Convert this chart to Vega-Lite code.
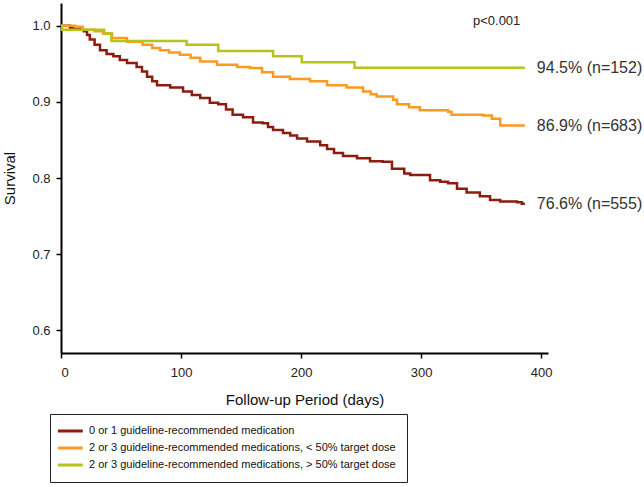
{
  "$schema": "https://vega.github.io/schema/vega-lite/v6.json",
  "width": 487,
  "height": 350,
  "autosize": {"type": "none"},
  "padding": {"left": 61, "top": 3, "right": 96, "bottom": 134},
  "background": "white",
  "config": {
    "view": {"stroke": null},
    "font": "Liberation Sans",
    "axis": {
      "grid": false,
      "domainColor": "black",
      "domainWidth": 2,
      "tickColor": "black",
      "tickWidth": 1.5,
      "tickSize": 5,
      "labelFont": "Liberation Sans",
      "labelFontSize": 13,
      "labelColor": "#222222",
      "titleFont": "Liberation Sans",
      "titleFontSize": 15,
      "titleFontWeight": "normal",
      "titleColor": "#111111"
    }
  },
  "datasets": {
    "km": [
      {"group": "0 or 1 guideline-recommended medication", "day": 0, "surv": 1.0},
      {"group": "0 or 1 guideline-recommended medication", "day": 7.5, "surv": 0.997},
      {"group": "0 or 1 guideline-recommended medication", "day": 16, "surv": 0.995},
      {"group": "0 or 1 guideline-recommended medication", "day": 19, "surv": 0.993},
      {"group": "0 or 1 guideline-recommended medication", "day": 21.7, "surv": 0.988},
      {"group": "0 or 1 guideline-recommended medication", "day": 24, "surv": 0.982},
      {"group": "0 or 1 guideline-recommended medication", "day": 28, "surv": 0.975},
      {"group": "0 or 1 guideline-recommended medication", "day": 32.5, "surv": 0.968},
      {"group": "0 or 1 guideline-recommended medication", "day": 38, "surv": 0.963},
      {"group": "0 or 1 guideline-recommended medication", "day": 43.6, "surv": 0.96},
      {"group": "0 or 1 guideline-recommended medication", "day": 49, "surv": 0.955},
      {"group": "0 or 1 guideline-recommended medication", "day": 55, "surv": 0.951},
      {"group": "0 or 1 guideline-recommended medication", "day": 63, "surv": 0.946},
      {"group": "0 or 1 guideline-recommended medication", "day": 67.5, "surv": 0.94},
      {"group": "0 or 1 guideline-recommended medication", "day": 71.7, "surv": 0.933},
      {"group": "0 or 1 guideline-recommended medication", "day": 76, "surv": 0.927},
      {"group": "0 or 1 guideline-recommended medication", "day": 80, "surv": 0.922},
      {"group": "0 or 1 guideline-recommended medication", "day": 91, "surv": 0.919},
      {"group": "0 or 1 guideline-recommended medication", "day": 101.7, "surv": 0.9136},
      {"group": "0 or 1 guideline-recommended medication", "day": 109, "surv": 0.909},
      {"group": "0 or 1 guideline-recommended medication", "day": 116, "surv": 0.905},
      {"group": "0 or 1 guideline-recommended medication", "day": 124, "surv": 0.899},
      {"group": "0 or 1 guideline-recommended medication", "day": 131, "surv": 0.897},
      {"group": "0 or 1 guideline-recommended medication", "day": 137.5, "surv": 0.89},
      {"group": "0 or 1 guideline-recommended medication", "day": 143, "surv": 0.883},
      {"group": "0 or 1 guideline-recommended medication", "day": 151.7, "surv": 0.88},
      {"group": "0 or 1 guideline-recommended medication", "day": 160, "surv": 0.873},
      {"group": "0 or 1 guideline-recommended medication", "day": 168, "surv": 0.872},
      {"group": "0 or 1 guideline-recommended medication", "day": 172.5, "surv": 0.867},
      {"group": "0 or 1 guideline-recommended medication", "day": 176.7, "surv": 0.863},
      {"group": "0 or 1 guideline-recommended medication", "day": 185, "surv": 0.859},
      {"group": "0 or 1 guideline-recommended medication", "day": 191, "surv": 0.856},
      {"group": "0 or 1 guideline-recommended medication", "day": 196.7, "surv": 0.852},
      {"group": "0 or 1 guideline-recommended medication", "day": 205, "surv": 0.848},
      {"group": "0 or 1 guideline-recommended medication", "day": 216, "surv": 0.843},
      {"group": "0 or 1 guideline-recommended medication", "day": 221.7, "surv": 0.838},
      {"group": "0 or 1 guideline-recommended medication", "day": 227.5, "surv": 0.833},
      {"group": "0 or 1 guideline-recommended medication", "day": 235, "surv": 0.829},
      {"group": "0 or 1 guideline-recommended medication", "day": 246.7, "surv": 0.826},
      {"group": "0 or 1 guideline-recommended medication", "day": 257.5, "surv": 0.822},
      {"group": "0 or 1 guideline-recommended medication", "day": 268, "surv": 0.8215},
      {"group": "0 or 1 guideline-recommended medication", "day": 275.8, "surv": 0.812},
      {"group": "0 or 1 guideline-recommended medication", "day": 286, "surv": 0.806},
      {"group": "0 or 1 guideline-recommended medication", "day": 291, "surv": 0.804},
      {"group": "0 or 1 guideline-recommended medication", "day": 307.5, "surv": 0.797},
      {"group": "0 or 1 guideline-recommended medication", "day": 316, "surv": 0.795},
      {"group": "0 or 1 guideline-recommended medication", "day": 322.5, "surv": 0.793},
      {"group": "0 or 1 guideline-recommended medication", "day": 330, "surv": 0.786},
      {"group": "0 or 1 guideline-recommended medication", "day": 338, "surv": 0.781},
      {"group": "0 or 1 guideline-recommended medication", "day": 349, "surv": 0.776},
      {"group": "0 or 1 guideline-recommended medication", "day": 357.5, "surv": 0.771},
      {"group": "0 or 1 guideline-recommended medication", "day": 366, "surv": 0.769},
      {"group": "0 or 1 guideline-recommended medication", "day": 380, "surv": 0.768},
      {"group": "0 or 1 guideline-recommended medication", "day": 384, "surv": 0.766},
      {"group": "0 or 1 guideline-recommended medication", "day": 386.5, "surv": 0.766},
      {"group": "2 or 3 guideline-recommended medications, < 50% target dose", "day": 0, "surv": 1.0},
      {"group": "2 or 3 guideline-recommended medications, < 50% target dose", "day": 11.7, "surv": 0.9987},
      {"group": "2 or 3 guideline-recommended medications, < 50% target dose", "day": 18, "surv": 0.995},
      {"group": "2 or 3 guideline-recommended medications, < 50% target dose", "day": 28, "surv": 0.993},
      {"group": "2 or 3 guideline-recommended medications, < 50% target dose", "day": 35, "surv": 0.99},
      {"group": "2 or 3 guideline-recommended medications, < 50% target dose", "day": 42.5, "surv": 0.984},
      {"group": "2 or 3 guideline-recommended medications, < 50% target dose", "day": 55, "surv": 0.979},
      {"group": "2 or 3 guideline-recommended medications, < 50% target dose", "day": 68, "surv": 0.975},
      {"group": "2 or 3 guideline-recommended medications, < 50% target dose", "day": 76, "surv": 0.971},
      {"group": "2 or 3 guideline-recommended medications, < 50% target dose", "day": 82.5, "surv": 0.968},
      {"group": "2 or 3 guideline-recommended medications, < 50% target dose", "day": 90, "surv": 0.965},
      {"group": "2 or 3 guideline-recommended medications, < 50% target dose", "day": 99, "surv": 0.962},
      {"group": "2 or 3 guideline-recommended medications, < 50% target dose", "day": 108, "surv": 0.958},
      {"group": "2 or 3 guideline-recommended medications, < 50% target dose", "day": 116, "surv": 0.953},
      {"group": "2 or 3 guideline-recommended medications, < 50% target dose", "day": 130, "surv": 0.949},
      {"group": "2 or 3 guideline-recommended medications, < 50% target dose", "day": 146.7, "surv": 0.946},
      {"group": "2 or 3 guideline-recommended medications, < 50% target dose", "day": 157.5, "surv": 0.9445},
      {"group": "2 or 3 guideline-recommended medications, < 50% target dose", "day": 167.5, "surv": 0.939},
      {"group": "2 or 3 guideline-recommended medications, < 50% target dose", "day": 176.7, "surv": 0.933},
      {"group": "2 or 3 guideline-recommended medications, < 50% target dose", "day": 190.8, "surv": 0.93},
      {"group": "2 or 3 guideline-recommended medications, < 50% target dose", "day": 207.5, "surv": 0.927},
      {"group": "2 or 3 guideline-recommended medications, < 50% target dose", "day": 221.7, "surv": 0.922},
      {"group": "2 or 3 guideline-recommended medications, < 50% target dose", "day": 238, "surv": 0.919},
      {"group": "2 or 3 guideline-recommended medications, < 50% target dose", "day": 251.7, "surv": 0.9136},
      {"group": "2 or 3 guideline-recommended medications, < 50% target dose", "day": 258, "surv": 0.91},
      {"group": "2 or 3 guideline-recommended medications, < 50% target dose", "day": 263, "surv": 0.907},
      {"group": "2 or 3 guideline-recommended medications, < 50% target dose", "day": 276.7, "surv": 0.903},
      {"group": "2 or 3 guideline-recommended medications, < 50% target dose", "day": 280, "surv": 0.897},
      {"group": "2 or 3 guideline-recommended medications, < 50% target dose", "day": 290, "surv": 0.893},
      {"group": "2 or 3 guideline-recommended medications, < 50% target dose", "day": 299, "surv": 0.889},
      {"group": "2 or 3 guideline-recommended medications, < 50% target dose", "day": 322.5, "surv": 0.887},
      {"group": "2 or 3 guideline-recommended medications, < 50% target dose", "day": 325.5, "surv": 0.883},
      {"group": "2 or 3 guideline-recommended medications, < 50% target dose", "day": 351.7, "surv": 0.882},
      {"group": "2 or 3 guideline-recommended medications, < 50% target dose", "day": 359, "surv": 0.878},
      {"group": "2 or 3 guideline-recommended medications, < 50% target dose", "day": 366, "surv": 0.869},
      {"group": "2 or 3 guideline-recommended medications, < 50% target dose", "day": 386.5, "surv": 0.869},
      {"group": "2 or 3 guideline-recommended medications, > 50% target dose", "day": 0, "surv": 1.0},
      {"group": "2 or 3 guideline-recommended medications, > 50% target dose", "day": 1, "surv": 0.995},
      {"group": "2 or 3 guideline-recommended medications, > 50% target dose", "day": 36, "surv": 0.99},
      {"group": "2 or 3 guideline-recommended medications, > 50% target dose", "day": 42, "surv": 0.98},
      {"group": "2 or 3 guideline-recommended medications, > 50% target dose", "day": 104.7, "surv": 0.975},
      {"group": "2 or 3 guideline-recommended medications, > 50% target dose", "day": 131, "surv": 0.967},
      {"group": "2 or 3 guideline-recommended medications, > 50% target dose", "day": 176.7, "surv": 0.96},
      {"group": "2 or 3 guideline-recommended medications, > 50% target dose", "day": 200.6, "surv": 0.952},
      {"group": "2 or 3 guideline-recommended medications, > 50% target dose", "day": 244.6, "surv": 0.945},
      {"group": "2 or 3 guideline-recommended medications, > 50% target dose", "day": 386.5, "surv": 0.945}
    ],
    "ends": [
      {"label": "94.5% (n=152)", "day": 396.5, "surv": 0.945},
      {"label": "86.9% (n=683)", "day": 396.5, "surv": 0.869},
      {"label": "76.6% (n=555)", "day": 396.5, "surv": 0.766}
    ],
    "pval": [
      {"label": "p<0.001", "day": 363, "surv": 1.0066}
    ]
  },
  "layer": [
    {
      "data": {"name": "km"},
      "mark": {"type": "line", "interpolate": "step-after", "strokeWidth": 2.5},
      "encoding": {
        "x": {
          "field": "day", "type": "quantitative",
          "scale": {"domain": [0, 405.8], "nice": false, "zero": false},
          "axis": {"values": [0, 100, 200, 300, 400], "title": "Follow-up Period (days)", "labelPadding": 8, "titlePadding": 13}
        },
        "y": {
          "field": "surv", "type": "quantitative",
          "scale": {"domain": [0.57, 1.03], "nice": false, "zero": false},
          "axis": {"values": [0.6, 0.7, 0.8, 0.9, 1.0], "format": ".1f", "title": "Survival", "labelPadding": 6, "titlePadding": 14}
        },
        "color": {
          "field": "group", "type": "nominal",
          "scale": {
            "domain": [
              "0 or 1 guideline-recommended medication",
              "2 or 3 guideline-recommended medications, < 50% target dose",
              "2 or 3 guideline-recommended medications, > 50% target dose"
            ],
            "range": ["#8C1D0E", "#FF9922", "#B4C41A"]
          },
          "legend": {
            "orient": "none",
            "legendX": -11,
            "legendY": 411,
            "title": null,
            "strokeColor": "#222222",
            "fillColor": "white",
            "padding": 11,
            "symbolType": "M-2.2,0H3.8",
            "symbolSize": 69,
            "symbolStrokeWidth": 3,
            "labelFont": "Liberation Sans",
            "labelFontSize": 11,
            "labelColor": "#111111",
            "labelLimit": 400,
            "labelOffset": 16,
            "rowPadding": 5
          }
        }
      }
    },
    {
      "data": {"name": "ends"},
      "mark": {"type": "text", "align": "left", "baseline": "middle", "fontSize": 16, "font": "Liberation Sans", "color": "#333333"},
      "encoding": {
        "x": {"field": "day", "type": "quantitative"},
        "y": {"field": "surv", "type": "quantitative"},
        "text": {"field": "label"}
      }
    },
    {
      "data": {"name": "pval"},
      "mark": {"type": "text", "align": "center", "baseline": "middle", "fontSize": 13, "font": "Liberation Sans", "color": "#222222"},
      "encoding": {
        "x": {"field": "day", "type": "quantitative"},
        "y": {"field": "surv", "type": "quantitative"},
        "text": {"field": "label"}
      }
    }
  ]
}
